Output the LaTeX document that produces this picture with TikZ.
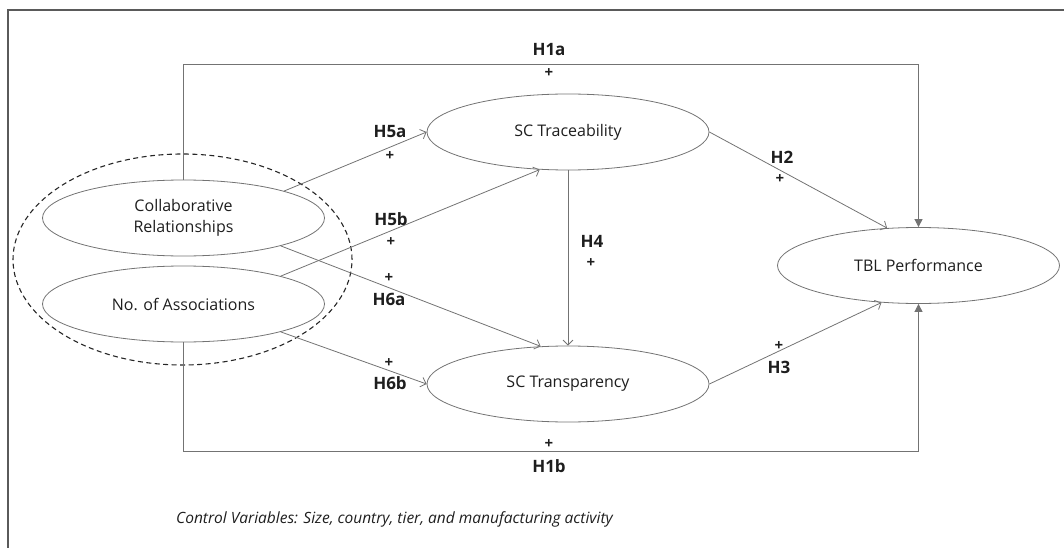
\documentclass[tikz,border=0pt]{standalone}
\usepackage{fontspec}
\setmainfont{Open Sans}
\usetikzlibrary{shapes.geometric,arrows.meta}
\definecolor{ln}{RGB}{115,115,115}
\definecolor{txt}{RGB}{30,30,30}
\definecolor{frm}{RGB}{90,90,90}
\begin{document}
\begin{tikzpicture}[x=1pt,y=-1pt,
  var/.style={ellipse,draw=ln,line width=0.8pt,minimum width=282pt,minimum height=76pt,inner sep=0pt,align=center,font=\fontsize{16}{21}\selectfont,text=txt},
  conn/.style={draw=ln,line width=0.8pt,-{Straight Barb[length=5pt,width=10pt]}},
  frame/.style={draw=ln,line width=0.8pt,-{Triangle[length=8pt,width=8pt]}},
  hyp/.style={font=\bfseries\fontsize{17}{18}\selectfont,text=txt,inner sep=0pt},
  plus/.style={font=\bfseries\fontsize{15}{16}\selectfont,text=txt,inner sep=0pt}]
\useasboundingbox (0,0) rectangle (1064,548);
\draw[frm,line width=1.5pt] (8,548) -- (8,10) -- (1064,10);

\node[var] (collab) at (183.5,218) {Collaborative\\Relationships};
\node[var] (noa) at (183.5,304) {No. of Associations};
\node[var] (trace) at (568,132) {SC Traceability};
\node[var] (transp) at (568,384) {SC Transparency};
\node[var] (tbl) at (918.5,265.5) {TBL Performance};
\node[draw=black!85,dashed,line width=1.1pt,dash pattern=on 5pt off 3.5pt,ellipse,minimum width=339pt,minimum height=211pt,inner sep=0pt] (grp) at (182.5,259.5) {};

\coordinate (topy) at (0,64);
\coordinate (boty) at (0,451);
\draw[frame] (collab.north) -- (collab.north |- topy) -| (tbl.north);
\draw[frame] (noa.south) -- (noa.south |- boty) -| (tbl.south);

\draw[conn] (collab.15) -- (trace.west);
\draw[conn] (noa.16) -- (trace.233);
\draw[conn] (collab.344) -- (transp.126);
\draw[conn] (noa.344) -- (transp.west);
\draw[conn] (trace.south) -- (transp.north);
\draw[conn] (trace.east) -- (tbl.130);
\draw[conn] (transp.east) -- (tbl.225);

\node[hyp] (h1a) at (549,50) {H1a};
\node[plus] (p1a) at (549,73) {+};
\node[hyp] (h1b) at (549,466) {H1b};
\node[plus] (p1b) at (549,444) {+};
\node[hyp] (h5a) at (390,132) {H5a};
\node[plus] (p5a) at (390,156) {+};
\node[hyp] (h5b) at (391,219) {H5b};
\node[plus] (p5b) at (391,242) {+};
\node[plus] (p6a) at (389,278) {+};
\node[hyp] (h6a) at (389,299) {H6a};
\node[plus] (p6b) at (389,363) {+};
\node[hyp] (h6b) at (390,383) {H6b};
\node[hyp] (h4) at (592,241) {H4};
\node[plus] (p4) at (591,263) {+};
\node[hyp] (h2) at (782,157) {H2};
\node[plus] (p2) at (780,179) {+};
\node[plus] (p3) at (779,346) {+};
\node[hyp] (h3) at (779,367) {H3};

\node[anchor=west,inner sep=0pt,font=\itshape\fontsize{15.5}{17}\selectfont,text=txt] (ctrl) at (176,519) {Control Variables: Size, country, tier, and manufacturing activity};
\end{tikzpicture}
\end{document}
